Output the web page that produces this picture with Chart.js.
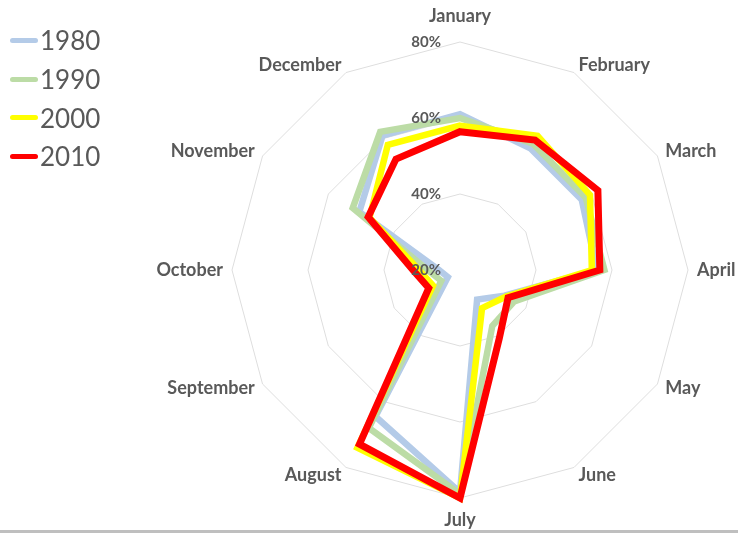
<!DOCTYPE html>
<html>
<head>
<meta charset="utf-8">
<script src="https://cdn.jsdelivr.net/npm/chart.js@4.4.0/dist/chart.umd.min.js"></script>
<style>
  body { margin: 0; background: #fff; }
  #wrap { position: relative; width: 738px; height: 535px; overflow: hidden; font-family: Lato, sans-serif; }
  #chart { position: absolute; left: 0; top: 0; }
  #legend { position: absolute; left: 10px; top: 21px; }
  .item { display: flex; align-items: center; height: 38.7px; font-size: 26px; color: #595959; }
  .swatch { width: 28px; height: 5px; border-radius: 3px; margin-right: 2px; }
  #baseline { position: absolute; left: 0; top: 530px; width: 738px; height: 3px; background: #bfbfbf; }
</style>
</head>
<body>
<div id="wrap">
  <canvas id="chart" width="738" height="535"></canvas>
  <div id="legend"></div>
  <div id="baseline"></div>
</div>
<script>
const months = ["January", "February", "March", "April", "May", "June",
  "July", "August", "September", "October", "November", "December"];

// share in %
const values1980 = [61, 57, 57, 56, 33.5, 29, 78.5, 64.5, 23.7, 25.5, 50.6, 60.8];
const values1990 = [60, 58.4, 58.2, 58, 36.5, 37, 79, 68, 25.7, 28.5, 52.6, 62];
const values2000 = [58, 60.8, 59.5, 54.7, 34, 31.6, 80, 74, 28.2, 30.8, 47.5, 58];
const values2010 = [56.4, 59.5, 61.9, 56.8, 34.6, 40.7, 80, 72.9, 29.5, 32.4, 47.9, 53.7];

const tickValues = [20, 40, 60, 80];

const series = [
  { label: "1980", data: values1980, color: "#b4cbe8", width: 6.5, order: 3 },
  { label: "1990", data: values1990, color: "#bcdca6", width: 6.5, order: 2 },
  { label: "2000", data: values2000, color: "#ffff00", width: 6.5, order: 1 },
  { label: "2010", data: values2010, color: "#ff0000", width: 7, order: 0 }
];

// legend on the left
const legendEl = document.getElementById("legend");
for (const s of series) {
  const item = document.createElement("div");
  item.className = "item";
  const sw = document.createElement("span");
  sw.className = "swatch";
  sw.style.background = s.color;
  item.appendChild(sw);
  item.appendChild(document.createTextNode(s.label));
  legendEl.appendChild(item);
}

// month names and % ticks, placed from the radial scale
const radarLabels = {
  id: "radarLabels",
  afterDraw(chart) {
    const scale = chart.scales.r;
    const ctx = chart.ctx;
    ctx.save();
    ctx.fillStyle = "#595959";
    ctx.textBaseline = "middle";

    ctx.font = "bold 18px Lato";
    months.forEach((m, i) => {
      const angle = i * 360 / months.length;
      let pad = 9;
      if (angle === 0) pad = 26;
      if (angle === 180) pad = 22;
      const p = scale.getPointPosition(i, scale.drawingArea + pad);
      if (angle === 0 || angle === 180) ctx.textAlign = "center";
      else ctx.textAlign = angle < 180 ? "left" : "right";
      ctx.fillText(m, p.x, p.y);
    });

    ctx.font = "bold 15px Lato";
    ctx.textAlign = "right";
    tickValues.forEach((v) => {
      const p = scale.getPointPositionForValue(0, v);
      ctx.fillText(v + "%", p.x - 19, p.y);
    });
    ctx.restore();
  }
};

new Chart(document.getElementById("chart"), {
  type: "radar",
  data: {
    labels: months,
    datasets: series.map((s) => ({
      label: s.label,
      data: s.data,
      borderColor: s.color,
      backgroundColor: s.color,
      borderWidth: s.width,
      pointRadius: 0,
      fill: false,
      tension: 0,
      order: s.order
    }))
  },
  options: {
    responsive: false,
    animation: false,
    layout: { padding: { left: 232, right: 50, top: 42, bottom: 37 } },
    plugins: { legend: { display: false }, tooltip: { enabled: false } },
    scales: {
      r: {
        min: 20,
        max: 80,
        ticks: { display: false, stepSize: 20 },
        grid: { color: "#dedede", lineWidth: 1 },
        angleLines: { display: false },
        pointLabels: { display: false }
      }
    }
  },
  plugins: [radarLabels]
});
</script>
</body>
</html>
